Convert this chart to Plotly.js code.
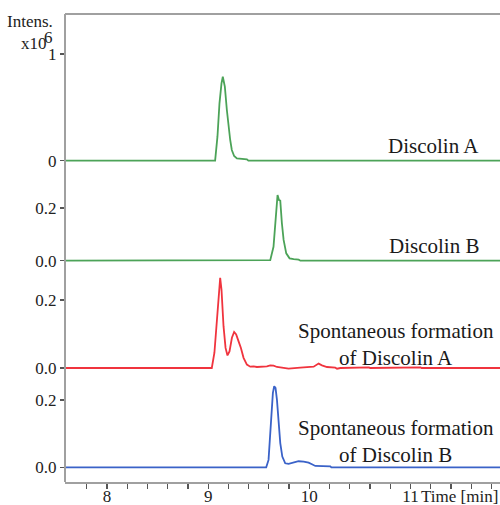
<!DOCTYPE html>
<html>
<head>
<meta charset="utf-8">
<script src="https://cdn.plot.ly/plotly-3.0.1.min.js"></script>
<style>html,body{margin:0;padding:0;background:#fff;}#chart{width:500px;height:505px;}</style>
</head>
<body>
<div id="chart"></div>
<script>
// ---- Data (time in min, intensity in x10^6) ----
const discolinA_t = [7.585, 9.069, 9.092, 9.112, 9.132, 9.145, 9.155, 9.165, 9.185, 9.201, 9.218, 9.234, 9.257, 9.284, 9.383, 9.398, 11.885];
const discolinA_v = [0, 0, 0.225, 0.538, 0.725, 0.787, 0.74, 0.694, 0.475, 0.319, 0.194, 0.10, 0.044, 0.022, 0.013, 0, 0];

const discolinB_t = [7.585, 9.614, 9.646, 9.666, 9.680, 9.686, 9.700, 9.713, 9.729, 9.746, 9.772, 9.805, 9.845, 9.895, 9.912, 11.885];
const discolinB_v = [0, 0.002, 0.053, 0.154, 0.23, 0.249, 0.23, 0.228, 0.142, 0.079, 0.028, 0.009, 0.006, 0.004, 0, 0];

const spontA_t = [7.585, 9.036, 9.062, 9.086, 9.105, 9.119, 9.132, 9.152, 9.172, 9.191, 9.211, 9.235, 9.257, 9.277, 9.300, 9.324, 9.350, 9.383, 9.416, 9.449, 9.482, 9.581, 9.614, 9.647, 9.680, 9.779, 9.795, 9.911, 10.043, 10.092, 10.125, 10.175, 10.257, 10.274, 10.307, 10.59, 10.60, 11.10, 11.11, 11.885];
const spontA_v = [0, 0, 0.045, 0.143, 0.231, 0.265, 0.231, 0.123, 0.059, 0.037, 0.049, 0.089, 0.106, 0.099, 0.079, 0.059, 0.030, 0.010, 0.004, 0.005, 0.003, 0.005, 0.008, 0.007, 0.003, 0.0, -0.002, 0.001, 0.004, 0.013, 0.008, 0.003, 0.001, -0.002, 0, 0.002, 0, 0.002, 0, 0];

const spontB_t = [7.585, 9.574, 9.597, 9.620, 9.640, 9.653, 9.666, 9.680, 9.696, 9.713, 9.733, 9.762, 9.795, 9.845, 9.894, 9.944, 9.993, 10.026, 10.059, 10.208, 10.218, 11.885];
const spontB_v = [0, 0, 0.022, 0.131, 0.221, 0.241, 0.236, 0.201, 0.131, 0.072, 0.032, 0.012, 0.010, 0.014, 0.018, 0.017, 0.014, 0.009, 0.004, 0.003, 0, 0];

const xTickVals = [7.8, 8.0, 8.2, 8.4, 8.6, 8.8, 9.0, 9.2, 9.4, 9.6, 9.8, 10.0, 10.2, 10.4, 10.6, 10.8, 11.0, 11.2, 11.4, 11.6, 11.8];
const xTickText = [' ', '8', ' ', ' ', ' ', ' ', '9', ' ', ' ', ' ', ' ', '10', ' ', ' ', ' ', ' ', '11', ' ', ' ', ' ', ' '];

const y1TickVals = [0, 1];      const y1TickText = ['0', '1'];
const y2TickVals = [0, 0.2];    const y2TickText = ['0.0', '0.2'];
const y3TickVals = [0, 0.2];    const y3TickText = ['0.0', '0.2'];
const y4TickVals = [0, 0.2];    const y4TickText = ['0.0', '0.2'];

const labels = ['Discolin A', 'Discolin B', 'Spontaneous formation<br>of Discolin A', 'Spontaneous formation<br>of Discolin B'];

// ---- Styles ----
const green = 'rgb(76,163,88)';
const red = 'rgb(240,52,62)';
const blue = 'rgb(58,98,200)';
const frame = 'rgb(160,160,160)';
const font = 'Liberation Serif, Times New Roman, serif';

const traces = [
  {x: discolinA_t, y: discolinA_v, xaxis: 'x', yaxis: 'y', mode: 'lines', line: {color: green, width: 1.8}},
  {x: discolinB_t, y: discolinB_v, xaxis: 'x', yaxis: 'y2', mode: 'lines', line: {color: green, width: 1.8}},
  {x: spontA_t, y: spontA_v, xaxis: 'x', yaxis: 'y3', mode: 'lines', line: {color: red, width: 1.8}},
  {x: spontB_t, y: spontB_v, xaxis: 'x', yaxis: 'y4', mode: 'lines', line: {color: blue, width: 1.8}}
];

function yax(domain, range, vals, text) {
  return {
    domain: domain, range: range, anchor: 'x',
    showgrid: false, zeroline: false, showline: false,
    ticks: 'outside', ticklen: 4, tickwidth: 1.2, tickcolor: '#555',
    tickvals: vals, ticktext: text,
    tickfont: {family: font, size: 17, color: '#222'}
  };
}

const layout = {
  width: 500, height: 505,
  margin: {l: 65, r: 0, t: 14, b: 23},
  paper_bgcolor: '#fff', plot_bgcolor: '#fff',
  showlegend: false,
  font: {family: font, color: '#222'},
  xaxis: {
    domain: [0, 1], range: [7.585, 11.885], anchor: 'y4',
    showgrid: false, zeroline: false,
    showline: true, linecolor: frame, linewidth: 2,
    ticks: 'outside', ticklen: 5, tickwidth: 1.2, tickcolor: '#555',
    tickvals: xTickVals, ticktext: xTickText,
    ticklabelstandoff: -7,
    tickfont: {family: font, size: 17, color: '#222'}
  },
  yaxis: yax([0.6667, 1.0], [-0.0872, 1.375], y1TickVals, y1TickText),
  yaxis2: yax([0.4487, 0.6667], [-0.0429, 0.3442], y2TickVals, y2TickText),
  yaxis3: yax([0.2222, 0.4487], [-0.0294, 0.2824], y3TickVals, y3TickText),
  yaxis4: yax([0, 0.2222], [-0.0437, 0.2654], y4TickVals, y4TickText),
  shapes: [
    {type: 'line', xref: 'paper', yref: 'paper', x0: 0, x1: 0, y0: 0, y1: 1, line: {color: frame, width: 2}},
    {type: 'line', xref: 'paper', yref: 'paper', x0: 0, x1: 1, y0: 1, y1: 1, line: {color: frame, width: 2}}
  ],
  annotations: [
    {text: labels[0], xref: 'paper', yref: 'paper', x: 0.848, y: 0.718, xanchor: 'center', yanchor: 'middle', showarrow: false, font: {family: font, size: 21, color: '#1a1a1a'}},
    {text: labels[1], xref: 'paper', yref: 'paper', x: 0.848, y: 0.504, xanchor: 'center', yanchor: 'middle', showarrow: false, font: {family: font, size: 21, color: '#1a1a1a'}},
    {text: labels[2], xref: 'paper', yref: 'paper', x: 0.762, y: 0.294, xanchor: 'center', yanchor: 'middle', showarrow: false, font: {family: font, size: 21, color: '#1a1a1a'}},
    {text: labels[3], xref: 'paper', yref: 'paper', x: 0.762, y: 0.0855, xanchor: 'center', yanchor: 'middle', showarrow: false, font: {family: font, size: 21, color: '#1a1a1a'}},
    {text: 'Intens.', xref: 'paper', yref: 'paper', x: -0.022, y: 0.983, xanchor: 'right', yanchor: 'middle', showarrow: false, font: {family: font, size: 17, color: '#222'}},
    {text: 'x10', xref: 'paper', yref: 'paper', x: -0.037, y: 0.936, xanchor: 'right', yanchor: 'middle', showarrow: false, font: {family: font, size: 17, color: '#222'}},
    {text: '6', xref: 'paper', yref: 'paper', x: -0.053, y: 0.950, xanchor: 'left', yanchor: 'middle', showarrow: false, font: {family: font, size: 17, color: '#222'}},
    {text: 'Time [min]', xref: 'paper', yref: 'paper', x: 0.906, y: -0.031, xanchor: 'center', yanchor: 'middle', showarrow: false, font: {family: font, size: 17, color: '#222'}}
  ]
};

Plotly.newPlot('chart', traces, layout, {displayModeBar: false, staticPlot: true});
</script>
</body>
</html>
